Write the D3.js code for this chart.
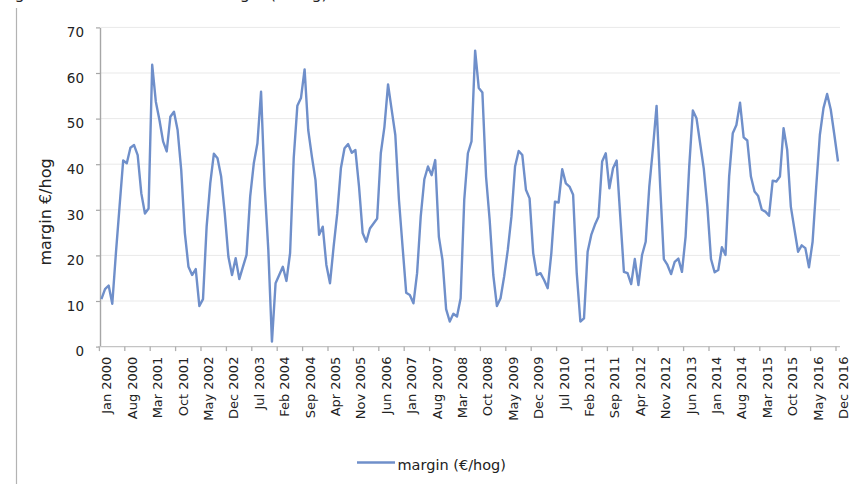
<!DOCTYPE html>
<html>
<head>
<meta charset="utf-8">
<script src="https://cdn.jsdelivr.net/npm/d3@7"></script>
<style>
  html, body { margin: 0; padding: 0; background: #fff; }
  svg { display: block; font-family: "DejaVu Sans", sans-serif; }
</style>
</head>
<body>
<svg id="chart" width="852" height="484"></svg>
<script>
// Monthly pig margin, €/hog, January 2000 to December 2016
const startMonth = new Date(2000, 0, 1);
const margin = [
  10.4, 12.6, 13.4, 9.4, 20.5, 30.7, 40.8, 40.2, 43.6, 44.2, 42.0, 33.6,   // 2000
  29.2, 30.3, 61.8, 53.7, 49.7, 45.0, 42.8, 50.4, 51.5, 47.5, 38.7, 24.9,  // 2001
  17.5, 15.7, 17.0, 8.9, 10.4, 26.3, 35.8, 42.3, 41.3, 37.3, 29.2, 19.7,   // 2002
  15.7, 19.4, 14.8, 17.5, 20.1, 32.9, 40.2, 44.6, 55.9, 35.1, 21.2, 1.1,   // 2003
  13.9, 15.7, 17.5, 14.4, 20.5, 41.3, 52.8, 54.5, 60.8, 47.5, 41.7, 36.5,  // 2004
  24.5, 26.3, 17.9, 13.9, 21.9, 29.2, 39.1, 43.5, 44.4, 42.5, 43.1, 35.1,  // 2005
  24.9, 23.0, 25.9, 27.0, 28.1, 42.4, 48.2, 57.5, 51.9, 46.4, 32.2, 21.9,  // 2006
  11.8, 11.3, 9.5, 16.1, 28.5, 36.7, 39.5, 37.6, 40.9, 24.1, 19.0, 8.2,    // 2007
  5.5, 7.2, 6.6, 10.6, 32.2, 42.4, 45.0, 64.9, 56.7, 55.7, 37.3, 27.8,     // 2008
  15.7, 8.9, 10.6, 15.4, 21.2, 28.5, 39.5, 42.9, 42.0, 34.4, 32.5, 20.5,   // 2009
  15.7, 16.1, 14.6, 12.8, 20.5, 31.8, 31.6, 38.9, 35.8, 35.1, 33.3, 16.1,  // 2010
  5.5, 6.2, 20.8, 24.5, 26.7, 28.5, 40.6, 42.4, 34.7, 39.1, 40.8, 28.5,    // 2011
  16.4, 16.1, 13.7, 19.2, 13.5, 20.1, 23.0, 35.1, 43.5, 52.8, 35.1, 19.2,  // 2012
  17.9, 15.9, 18.6, 19.3, 16.4, 24.1, 39.5, 51.8, 50.1, 44.6, 39.1, 30.7,  // 2013
  19.2, 16.3, 16.8, 21.8, 20.1, 37.3, 46.8, 48.6, 53.5, 45.9, 45.2, 37.3,  // 2014
  34.0, 33.0, 30.0, 29.6, 28.7, 36.4, 36.2, 37.3, 47.9, 43.1, 30.7, 25.7,  // 2015
  20.8, 22.2, 21.6, 17.4, 23.0, 35.1, 46.4, 52.3, 55.4, 52.0, 46.4, 40.6   // 2016
];
const tickLabels = [
  "Jan 2000", "Aug 2000", "Mar 2001", "Oct 2001", "May 2002", "Dec 2002",
  "Jul 2003", "Feb 2004", "Sep 2004", "Apr 2005", "Nov 2005", "Jun 2006",
  "Jan 2007", "Aug 2007", "Mar 2008", "Oct 2008", "May 2009", "Dec 2009",
  "Jul 2010", "Feb 2011", "Sep 2011", "Apr 2012", "Nov 2012", "Jun 2013",
  "Jan 2014", "Aug 2014", "Mar 2015", "Oct 2015", "May 2016", "Dec 2016"
];
const tickStep = 7;               // one label every 7 months
const yTicks = [0, 10, 20, 30, 40, 50, 60, 70];
const seriesName = "margin (€/hog)";
const yTitle = "margin €/hog";
const titleText = "Figure 2: Evolution of the margin (€/hog)";

// month categories
const months = margin.map((_, i) => d3.timeMonth.offset(startMonth, i));
const fmt = d3.timeFormat("%b %Y");

const svg = d3.select("#chart");
const x = d3.scalePoint().domain(months.map(fmt)).range([101.4, 838]);
const y = d3.scaleLinear().domain([0, 70]).range([346.6, 27.4]);
const plotLeft = 100, plotRight = 840;

// frame line on the left edge
svg.append("line")
  .attr("x1", 16.5).attr("x2", 16.5).attr("y1", 8).attr("y2", 484)
  .attr("stroke", "#b3b3b3").attr("stroke-width", 1.2);

// title, cut by the top edge
svg.append("text")
  .attr("x", 2).attr("y", -1)
  .attr("font-size", 16).attr("fill", "#222")
  .text(titleText);

// horizontal gridlines
svg.append("g").selectAll("line")
  .data(yTicks.filter(v => v > 0))
  .join("line")
  .attr("x1", plotLeft).attr("x2", plotRight)
  .attr("y1", d => y(d)).attr("y2", d => y(d))
  .attr("stroke", "#e9e9e9").attr("stroke-width", 1);

// y axis
const yAxis = svg.append("g")
  .attr("transform", `translate(${plotLeft},0)`)
  .call(d3.axisLeft(y).tickValues(yTicks).tickSize(4).tickSizeOuter(0).tickPadding(12));
yAxis.select(".domain").attr("stroke", "#a6a6a6").attr("stroke-width", 1.4);
yAxis.selectAll(".tick line").attr("stroke", "#a6a6a6").attr("stroke-width", 1.2);
yAxis.selectAll(".tick text")
  .attr("font-size", 13.5).attr("font-family", "DejaVu Sans, sans-serif")
  .attr("fill", "#222").attr("transform", "translate(0,5)");

// y axis title
svg.append("text")
  .attr("transform", "translate(45,212) rotate(-90)")
  .attr("text-anchor", "middle").attr("dy", "0.35em")
  .attr("font-size", 16).attr("fill", "#222")
  .text(yTitle);

// x axis baseline and ticks
const labelled = tickLabels.map((t, k) => ({ label: t, idx: k * tickStep }));
svg.append("line")
  .attr("x1", plotLeft - 2).attr("x2", plotRight)
  .attr("y1", y(0)).attr("y2", y(0))
  .attr("stroke", "#c4c4c4").attr("stroke-width", 1.4);
svg.append("g").selectAll("line")
  .data(labelled)
  .join("line")
  .attr("x1", d => x(fmt(months[d.idx])) - 2).attr("x2", d => x(fmt(months[d.idx])) - 2)
  .attr("y1", y(0)).attr("y2", y(0) + 4.5)
  .attr("stroke", "#b0b0b0").attr("stroke-width", 1.3);
svg.append("g").selectAll("text")
  .data(labelled)
  .join("text")
  .attr("transform", d => `translate(${x(fmt(months[d.idx])) + 5.5},${y(0) + 10}) rotate(-90)`)
  .attr("text-anchor", "end").attr("dy", "0.35em")
  .attr("font-size", 13).attr("fill", "#222")
  .text(d => d.label);

// the margin series
const line = d3.line()
  .x((d, i) => x(fmt(months[i])))
  .y(d => y(d));
svg.append("path")
  .datum(margin)
  .attr("d", line)
  .attr("fill", "none")
  .attr("stroke", "#6f8fca")
  .attr("stroke-width", 2.4)
  .attr("stroke-linejoin", "round");

// legend
const lg = svg.append("g").attr("transform", "translate(357,462.5)");
lg.append("line").attr("x1", 0).attr("x2", 38).attr("y1", 0).attr("y2", 0)
  .attr("stroke", "#6f8fca").attr("stroke-width", 2.4);
lg.append("text").attr("x", 40.5).attr("y", 7.5)
  .attr("font-size", 14.5).attr("fill", "#222")
  .text(seriesName);
</script>
</body>
</html>
